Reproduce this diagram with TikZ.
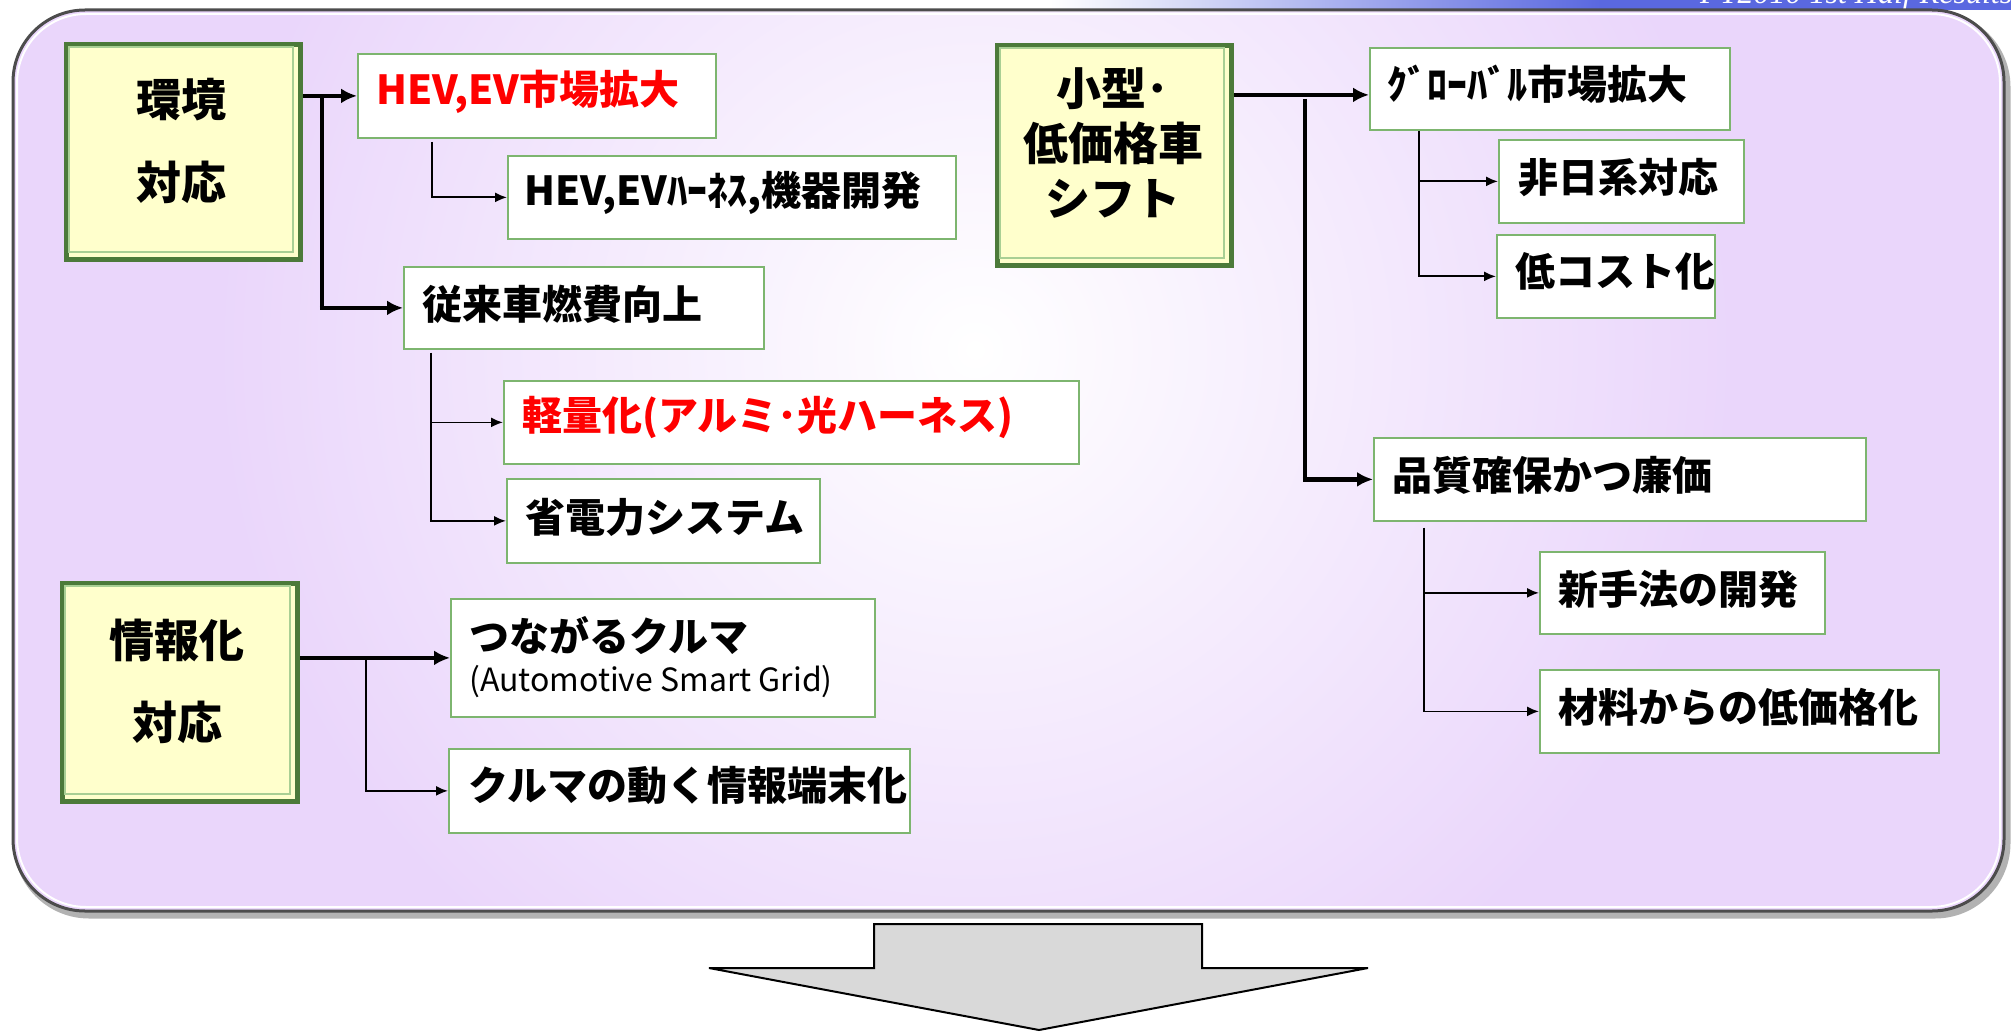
\documentclass[tikz,border=0pt]{standalone}
\usepackage{fontspec}
\newfontfamily\jp{Noto Sans CJK JP}
\newfontfamily\serifit{Liberation Serif}
\usetikzlibrary{arrows.meta,calc}
\definecolor{lav}{HTML}{EAD6FB}
\definecolor{boxgreen}{HTML}{7DB56F}
\definecolor{ybox}{HTML}{FFFFCC}
\definecolor{ygreen}{HTML}{4C7A3A}
\definecolor{ylight}{HTML}{A9CF94}
\definecolor{hdrblue}{HTML}{5A68E0}
\definecolor{arrgray}{HTML}{D9D9D9}
\begin{document}
\begin{tikzpicture}[x=1pt,y=-1pt,
  tbox/.style={draw=boxgreen, line width=1.8pt, fill=white, anchor=north west, inner sep=0pt},
  ybx/.style={draw=ygreen, line width=5pt, fill=ybox, anchor=north west, inner sep=0pt},
  txt/.style={anchor=west, inner sep=0pt, font=\jp\bfseries\fontsize{40}{48}\selectfont},
  ytxt/.style={align=center, inner sep=0pt},
  thk/.style={line width=4.5pt, -{Latex[length=16pt,width=15pt]}},
  thn/.style={line width=1.8pt, -{Latex[length=12pt,width=10pt]}},
  trk/.style={line width=4.5pt},
]
\useasboundingbox (0,0) rectangle (2011,1032);
\clip (0,0) rectangle (2011,1032);
% header strip
\shade[left color=white, right color=hdrblue] (1050,0) rectangle (1600,10);
\fill[hdrblue] (1600,0) rectangle (2011,10);
\node[anchor=base west, inner sep=0pt, text=white, font=\serifit\itshape\fontsize{32}{32}\selectfont] (hdr) at (1700,4) {FY2010 1st Half Results};
% outer panel
\draw[black!30, line width=7pt, rounded corners=72pt] (17,15) rectangle (2007,915);
\begin{scope}
  \clip[rounded corners=72pt] (13,10) rectangle (2004,911);
  \fill[lav] (13,10) rectangle (2004,911);
  \shade[inner color=white, outer color=lav] (975,350) circle (760);
\end{scope}
\draw[white, line width=2pt, rounded corners=69pt] (17,14) rectangle (2000,907);
\draw[black!70, line width=3pt, rounded corners=72pt] (13,10) rectangle (2004,911);

% yellow boxes
\foreach \bx/\by/\bw/\bh in {64/42/234/215, 60/581/235/218, 995/43/234/220}{
  \fill[black!35] (\bx+4,\by+4) rectangle ++(\bw,\bh);
}
\node[ybx, minimum width=234pt, minimum height=215pt] (env) at (64,42) {};
\node[ybx, minimum width=235pt, minimum height=218pt] (info) at (60,581) {};
\node[ybx, minimum width=234pt, minimum height=220pt] (small) at (995,43) {};
\draw[ylight, line width=1.5pt] (69,47) rectangle (293,252);
\draw[ylight, line width=1.5pt] (65,586) rectangle (290,794);
\draw[ylight, line width=1.5pt] (1000,48) rectangle (1224,258);
\node[ytxt, font=\jp\bfseries\fontsize{45}{83}\selectfont] (envT) at (181,141) {環境\\対応};
\node[ytxt, font=\jp\bfseries\fontsize{45}{82}\selectfont] (infoT) at (177,681) {情報化\\対応};
\node[ytxt, font=\jp\bfseries\fontsize{45}{55}\selectfont] (smallT) at (1113,143) {小型･\\低価格車\\シフト};

% white boxes
\node[tbox, minimum width=358pt, minimum height=84pt] (hev) at (357,53) {};
\node[tbox, minimum width=448pt, minimum height=83pt] (hevh) at (507,155) {};
\node[tbox, minimum width=360pt, minimum height=82pt] (conv) at (403,266) {};
\node[tbox, minimum width=575pt, minimum height=83pt] (lw) at (503,380) {};
\node[tbox, minimum width=313pt, minimum height=84pt] (sp) at (506,478) {};
\node[tbox, minimum width=424pt, minimum height=118pt] (tsun) at (450,598) {};
\node[tbox, minimum width=461pt, minimum height=84pt] (kur) at (448,748) {};
\node[tbox, minimum width=360pt, minimum height=82pt] (glob) at (1369,47) {};
\node[tbox, minimum width=245pt, minimum height=83pt] (nonj) at (1498,139) {};
\node[tbox, minimum width=218pt, minimum height=83pt] (lowc) at (1496,234) {};
\node[tbox, minimum width=492pt, minimum height=83pt] (qual) at (1373,437) {};
\node[tbox, minimum width=285pt, minimum height=82pt] (newm) at (1539,551) {};
\node[tbox, minimum width=399pt, minimum height=83pt] (mat) at (1539,669) {};

\node[txt, text=red] (hevT) at ($(hev.west)+(19,-4)$) {HEV,EV市場拡大};
\node[txt] (hevhT) at ($(hevh.west)+(17,-4)$) {HEV,EVﾊｰﾈｽ,機器開発};
\node[txt] (convT) at ($(conv.west)+(19,-4)$) {従来車燃費向上};
\node[txt, text=red] (lwT) at ($(lw.west)+(19,-5)$) {軽量化(アルミ･光ハーネス)};
\node[txt] (spT) at ($(sp.west)+(19,-4)$) {省電力システム};
\node[txt] (tsunA) at (469,636) {つながるクルマ};
\node[txt, font=\jp\fontsize{32}{36}\selectfont] (tsunB) at (469,682) {(Automotive Smart Grid)};
\node[txt] (kurT) at ($(kur.west)+(20,-5)$) {クルマの動く情報端末化};
\node[txt] (globT) at ($(glob.west)+(18,-5)$) {ｸﾞﾛｰﾊﾞﾙ市場拡大};
\node[txt] (nonjT) at ($(nonj.west)+(20,-4)$) {非日系対応};
\node[txt] (lowcT) at ($(lowc.west)+(19,-5)$) {低コスト化};
\node[txt] (qualT) at ($(qual.west)+(19,-4)$) {品質確保かつ廉価};
\node[txt] (newmT) at ($(newm.west)+(19,-4)$) {新手法の開発};
\node[txt] (matT) at ($(mat.west)+(19,-4)$) {材料からの低価格化};

% connectors
\coordinate (envS) at (env.east |- hev.west);
\coordinate (envJ) at ($(envS)+(19,0)$);
\draw[thk] (envS) -- (hev.west);
\draw[trk] (envJ) -- (envJ |- conv.west);
\draw[thk] ($(envJ |- conv.west)+(-2.25,0)$) -- (conv.west);

\coordinate (hevJ) at ($(hev.south west)+(75,3)$);
\draw[thn] (hevJ) |- (hevh.west);

\coordinate (convJ) at ($(conv.south west)+(28,3)$);
\draw[thn] (convJ) |- (lw.west);
\draw[thn] (convJ) |- (sp.west);

\coordinate (infoS) at (info.east |- tsun.west);
\coordinate (infoJ) at ($(infoS)+(66,0)$);
\draw[thk] (infoS) -- (tsun.west);
\draw[thn] (infoJ) |- (kur.west);

\coordinate (smallS) at ($(small.east |- glob.west)+(0,6)$);
\coordinate (smallJ) at ($(smallS)+(71,4)$);
\draw[thk] (smallS) -- ($(glob.west)+(0,6)$);
\draw[trk] (smallJ) -- (smallJ |- qual.west);
\draw[thk] ($(smallJ |- qual.west)+(-2.25,0)$) -- (qual.west);

\coordinate (globJ) at ($(glob.south west)+(50,0)$);
\draw[thn] (globJ) |- (nonj.west);
\draw[thn] (globJ) |- (lowc.west);

\coordinate (qualJ) at ($(qual.south west)+(51,6)$);
\draw[thn] (qualJ) |- (newm.west);
\draw[thn] (qualJ) |- (mat.west);

% bottom block arrow
\draw[fill=arrgray, draw=black, line width=2pt, line join=miter]
  (874,924) -- (1202,924) -- (1202,968) -- (1368,968) -- (1039,1030) -- (709,968) -- (874,968) -- cycle;
\end{tikzpicture}
\end{document}
